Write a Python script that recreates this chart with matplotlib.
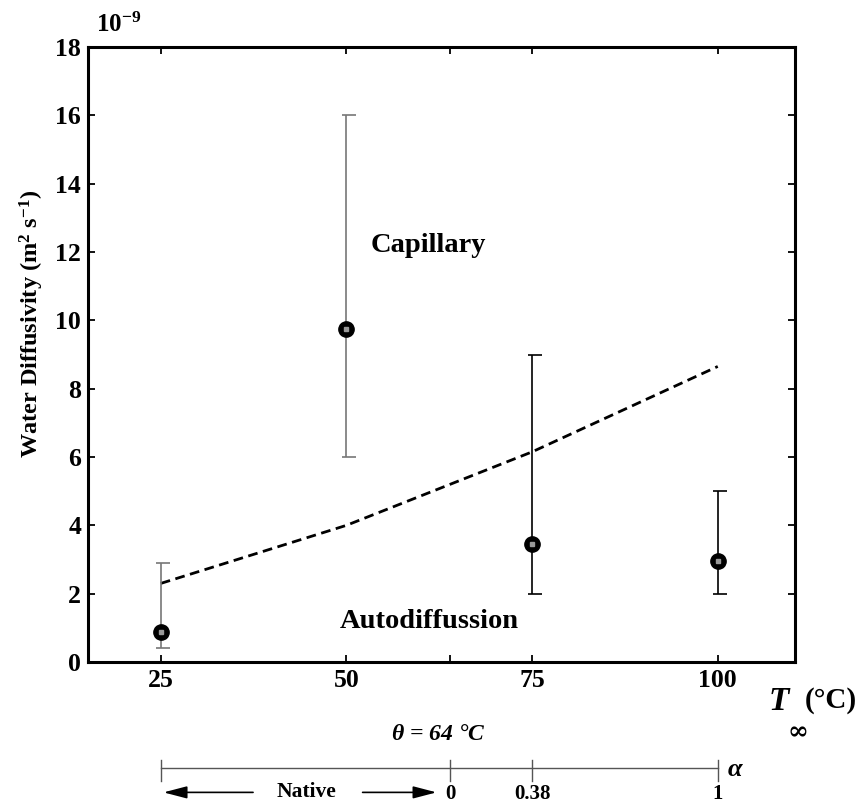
import matplotlib
matplotlib.use("Agg")
import matplotlib.pyplot as plt

plt.rcParams['font.family'] = ['Liberation Serif', 'DejaVu Serif']
plt.rcParams['font.weight'] = 'bold'
plt.rcParams['mathtext.fontset'] = 'custom'
plt.rcParams['mathtext.rm'] = 'Liberation Serif:bold'
plt.rcParams['mathtext.it'] = 'Liberation Serif:bold:italic'
plt.rcParams['mathtext.bf'] = 'Liberation Serif:bold'

# Data
temps = [25, 50, 75, 100]
diffusivity = [0.88, 9.75, 3.45, 2.95]
err_low = [0.4, 6.0, 2.0, 2.0]
err_high = [2.9, 16.0, 9.0, 5.0]
err_colors = ['#777777', '#777777', 'black', 'black']
model_T = [25, 50, 75, 100]
model_D = [2.3, 4.0, 6.15, 8.65]
x_ticks = [25, 50, 75, 100]
y_ticks = [0, 2, 4, 6, 8, 10, 12, 14, 16, 18]
theta_T = 64
alpha_T = [64, 75, 100]
alpha_labels = ['0', '0.38', '1']

W, H = 857, 807
fig = plt.figure(figsize=(W / 100, H / 100), dpi=100)
ax = fig.add_axes([88 / W, 1 - 662 / H, (795 - 88) / W, (662 - 47) / H])

ax.plot(model_T, model_D, linestyle=(0, (3.5, 2.0)), color='black', lw=2.0, zorder=2)

for t, d, lo, hi, c in zip(temps, diffusivity, err_low, err_high, err_colors):
    ax.vlines(t, lo, hi, color=c, lw=1.2, zorder=3)
    ax.hlines([lo, hi], t - 0.6, t + 1.3, color=c, lw=1.2, zorder=3)
ax.plot(temps, diffusivity, 'o', ms=11, mfc='black', mec='black', zorder=4)
ax.plot(temps, diffusivity, 's', ms=3, mfc='#999999', mec='#999999', zorder=5)

ax.set_xlim(15.2, 110.4)
ax.set_ylim(0, 18)
ax.set_xticks(x_ticks + [theta_T])
ax.set_xticklabels([str(v) for v in x_ticks] + [''])
ax.set_yticks(y_ticks)
ax.set_yticklabels([str(v) for v in y_ticks])
for s in ax.spines.values():
    s.set_linewidth(2.2)
ax.tick_params(direction='in', length=5, width=1.3, labelsize=18.5, top=True, right=True,
               pad=5)
for lbl in ax.get_xticklabels() + ax.get_yticklabels():
    lbl.set_fontweight('bold')

ax.set_ylabel('Water Diffusivity (m$^{2}$ s$^{-1}$)', fontsize=17.5, fontweight='bold')
ax.yaxis.set_label_coords(-0.06, 0.55)

fig.text(96 / W, 1 - 25 / H, r'10$^{-9}$', fontsize=18, fontweight='bold',
         ha='left', va='center')

ax.text(53.2, 12.2, 'Capillary', fontsize=20.5, fontweight='bold', ha='left', va='center')
ax.text(49.1, 1.2, 'Autodiffussion', fontsize=20.5, fontweight='bold', ha='left', va='center')

# x-axis title T_inf (°C)
fig.text(769 / W, 1 - 701 / H, 'T', fontsize=24, fontweight='bold', style='italic',
         ha='left', va='center')
fig.text(788 / W, 1 - 732 / H, '\u221e', fontsize=18, fontweight='bold', style='italic',
         family='DejaVu Serif', ha='left', va='center')
fig.text(805 / W, 1 - 700 / H, '(\u00b0C)', fontsize=21, fontweight='bold',
         ha='left', va='center')

tr = ax.get_xaxis_transform()
ax.text(62.4, -0.118, r'$\theta$ = 64 °C', transform=tr, fontsize=17,
        fontweight='bold', style='italic', ha='center', va='center', clip_on=False)

# secondary alpha scale
yl = -0.172
ax.plot([25, 100], [yl, yl], transform=tr, color='#555555', lw=1.0, clip_on=False)
for t in [25] + alpha_T:
    ax.plot([t, t], [yl - 0.022, yl + 0.012], transform=tr, color='#555555', lw=1.0,
            clip_on=False)
for t, l in zip(alpha_T, alpha_labels):
    ax.text(t, yl - 0.042, l, transform=tr, fontsize=15, fontweight='bold',
            ha='center', va='center', clip_on=False)
ax.text(101.2, yl - 0.003, r'$\alpha$', transform=tr, fontsize=19, ha='left', va='center',
        clip_on=False)

ya = yl - 0.04
astyle = '-|>,head_length=0.65,head_width=0.17'
ax.annotate('', xy=(25, ya), xytext=(37.8, ya), xycoords=tr, textcoords=tr,
            arrowprops=dict(arrowstyle=astyle, color='black', lw=1.2, mutation_scale=22),
            annotation_clip=False)
ax.annotate('', xy=(62.5, ya), xytext=(51.8, ya), xycoords=tr, textcoords=tr,
            arrowprops=dict(arrowstyle=astyle, color='black', lw=1.2, mutation_scale=22),
            annotation_clip=False)
ax.text(44.6, ya, 'Native', transform=tr, fontsize=15.5, fontweight='bold',
        ha='center', va='center', clip_on=False)

fig.savefig('out.png', dpi=100)
